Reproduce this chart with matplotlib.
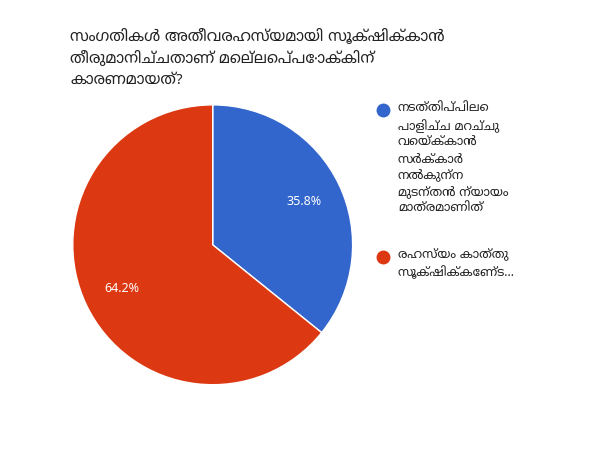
import matplotlib
matplotlib.use("Agg")
import matplotlib.pyplot as plt
from matplotlib.lines import Line2D

plt.rcParams['font.family'] = ['Noto Sans Malayalam', 'Noto Sans', 'DejaVu Sans']

title = "സംഗതികൾ അതീവരഹസ്യമായി സൂക്ഷിക്കാൻ\nതീരുമാനിച്ചതാണ് മെല്ലെപ്പോക്കിന്\nകാരണമായത്?"
labels = ["നടത്തിപ്പിലെ\nപാളിച്ച മറച്ചു\nവെയ്ക്കാൻ\nസർക്കാർ\nനൽകുന്ന\nമുടന്തൻ ന്യായം\nമാത്രമാണിത്",
          "രഹസ്യം കാത്തു\nസൂക്ഷിക്കേണ്ട..."]
values = [35.8, 64.2]
colors = ["#3366cc", "#dc3912"]

fig = plt.figure(figsize=(6, 4.5), dpi=100)
ax = fig.add_axes([0.063, 0.067, 0.583, 0.778])
ax.pie(values, colors=colors, startangle=90, counterclock=False,
       autopct='%1.1f%%', pctdistance=0.72,
       textprops=dict(color='white', fontsize=9),
       wedgeprops=dict(edgecolor='white', linewidth=1))
ax.set_aspect('equal')

fig.text(0.117, 0.935, title, fontsize=11, fontweight='bold', va='top', ha='left',
         color='#222222', linespacing=1.5)

ys = [0.755, 0.43]
for lab, c, y in zip(labels, colors, ys):
    fig.add_artist(Line2D([0.638], [y], marker='o', markersize=9, color=c,
                          transform=fig.transFigure))
    fig.text(0.663, y + 0.018, lab, fontsize=9, va='top', ha='left',
             color='#222222', linespacing=1.35)

fig.savefig("out.png", dpi=100, facecolor='white')
